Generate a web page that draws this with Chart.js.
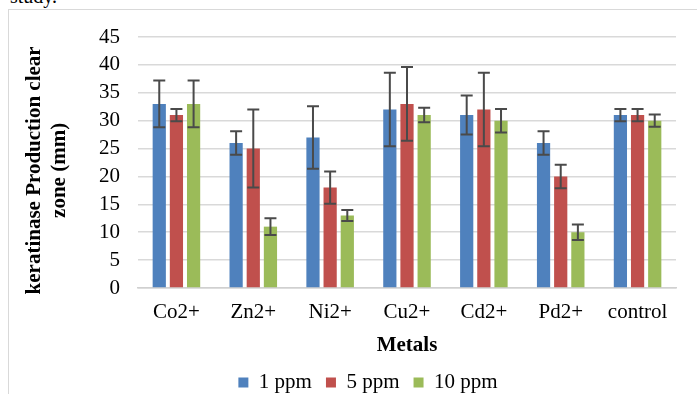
<!DOCTYPE html>
<html>
<head>
<meta charset="utf-8">
<script src="https://cdn.jsdelivr.net/npm/chart.js@4/dist/chart.umd.min.js"></script>
<style>
    html, body { margin: 0; padding: 0; background: #fff; }
    body { width: 697px; height: 394px; position: relative; overflow: hidden; }
    #frame { position: absolute; left: 8px; top: 9px; width: 720px; height: 420px; border: 1px solid #d9d9d9; }
    #note { position: absolute; left: 10px; top: -15px; font: 20px "Liberation Serif", serif; color: #000; }
    #wrap { position: absolute; left: 0; top: 0; width: 697px; height: 394px; }
</style>
</head>
<body>
<div id="frame"></div>
<div id="note">study.</div>
<div id="wrap"><canvas id="chart" width="697" height="394"></canvas></div>
<script>
const metals = ['Co2+', 'Zn2+', 'Ni2+', 'Cu2+', 'Cd2+', 'Pd2+', 'control'];
const seriesNames = ['1 ppm', '5 ppm', '10 ppm'];
const ppm1 = [33, 26, 27, 32, 31, 26, 31];
const ppm5 = [31, 25, 18, 33, 32, 20, 31];
const ppm10 = [33, 11, 13, 31, 30, 10, 30];
const err1 = [4.2, 2.1, 5.6, 6.6, 3.5, 2.1, 1.1];
const err5 = [1.1, 7.0, 2.9, 6.6, 6.6, 2.1, 1.1];
const err10 = [4.2, 1.5, 1.0, 1.3, 2.1, 1.4, 1.1];
const colors = ['#4F81BD', '#C0504D', '#9BBB59'];

const serif = '"Liberation Serif", "Times New Roman", serif';
const ctx = document.getElementById('chart').getContext('2d');

// draws the +/- error whiskers on top of every bar
const errorBars = {
    id: 'errorBars',
    afterDatasetsDraw(chart) {
        const c = chart.ctx;
        const y = chart.scales.y;
        c.save();
        c.strokeStyle = '#4a4a4a';
        c.lineWidth = 2;
        chart.data.datasets.forEach((ds, i) => {
            const meta = chart.getDatasetMeta(i);
            meta.data.forEach((bar, j) => {
                const v = ds.data[j];
                const e = ds.errors[j];
                const top = y.getPixelForValue(v + e);
                const bot = y.getPixelForValue(v - e);
                const x = bar.x;
                c.beginPath();
                c.moveTo(x, top); c.lineTo(x, bot);
                c.moveTo(x - 6, top); c.lineTo(x + 6, top);
                c.moveTo(x - 6, bot); c.lineTo(x + 6, bot);
                c.stroke();
            });
        });
        c.restore();
    }
};

// the legend sits a bit right of the page centre in the original
const legendShift = {
    id: 'legendShift',
    afterLayout(chart) {
        chart.legend.left += 20;
        chart.legend.right += 20;
    }
};

new Chart(ctx, {
    type: 'bar',
    data: {
        labels: metals,
        datasets: [
            { label: seriesNames[0], data: ppm1, errors: err1, backgroundColor: colors[0] },
            { label: seriesNames[1], data: ppm5, errors: err5, backgroundColor: colors[1] },
            { label: seriesNames[2], data: ppm10, errors: err10, backgroundColor: colors[2] },
        ],
    },
    options: {
        responsive: false,
        animation: false,
        datasets: {
            bar: { categoryPercentage: 0.67, barPercentage: 0.77 }
        },
        layout: { padding: { left: 20, right: 21, top: 37, bottom: -9 } },
        scales: {
            x: {
                grid: { display: false, drawTicks: false },
                border: { color: '#d0d0d0', width: 1.5 },
                ticks: { color: '#000', font: { family: serif, size: 21 }, padding: 12 },
                title: {
                    display: true,
                    text: 'Metals',
                    color: '#000',
                    font: { family: serif, size: 21, weight: 'bold' },
                    padding: { top: 0, bottom: 0 },
                },
                afterFit(scale) { scale.height = 70; },
            },
            y: {
                min: 0,
                max: 45,
                ticks: { stepSize: 5, autoSkip: false, color: '#000', font: { family: serif, size: 21 }, padding: 18 },
                grid: { color: '#d9d9d9', lineWidth: 1.5, drawTicks: false },
                border: { display: false },
                title: {
                    display: true,
                    text: ['keratinase Production clear   ', 'zone (mm)   '],
                    color: '#000',
                    font: { family: serif, size: 21, weight: 'bold', lineHeight: 1.15 },
                    padding: { top: 3, bottom: 0 },
                },
                afterFit(scale) { scale.width = 118; },
            },
        },
        plugins: {
            legend: {
                position: 'bottom',
                labels: {
                    boxWidth: 10,
                    boxHeight: 10,
                    color: '#000',
                    font: { family: serif, size: 21 },
                    padding: 14,
                },
            },
            tooltip: { enabled: false },
        },
    },
    plugins: [errorBars, legendShift],
});
</script>
</body>
</html>
